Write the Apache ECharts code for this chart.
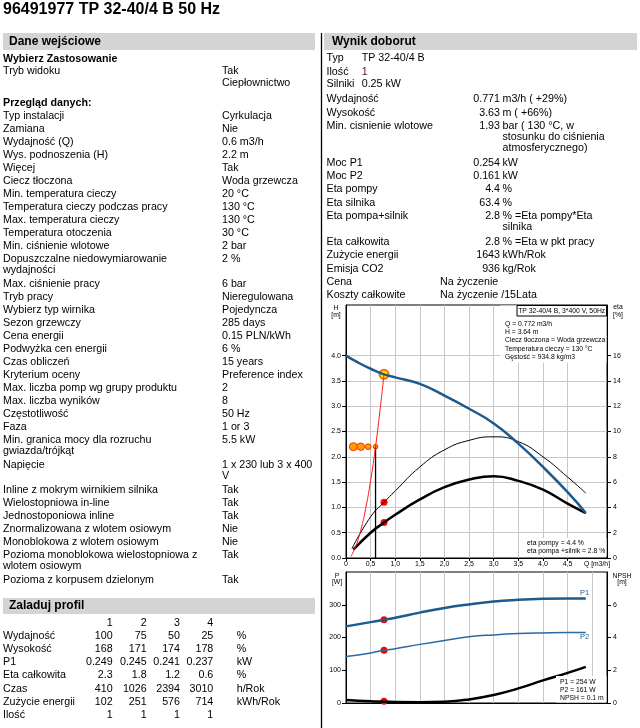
<!DOCTYPE html>
<html>
<head>
<meta charset="utf-8">
<title>96491977 TP 32-40/4 B 50 Hz</title>
<script src="https://cdn.jsdelivr.net/npm/echarts@6.0.0/dist/echarts.min.js"></script>
<style>
  html, body { margin: 0; padding: 0; background: #fff; }
  #main { width: 640px; height: 728px; }
</style>
</head>
<body>
<div id="main"></div>
<script>
'use strict';

//tick labels
var qTicks = [0, 0.5, 1, 1.5, 2, 2.5, 3, 3.5, 4, 4.5];
var headTicks = [0, 0.5, 1, 1.5, 2, 2.5, 3, 3.5, 4];
var etaTicks = [0, 2, 4, 6, 8, 10, 12, 14, 16];
var powerTicks = [0, 100, 200, 300];
var npshTicks = [0, 2, 4, 6];

//pump curve Q-H
var headQ = [0, 0.25, 0.5, 0.772, 1.0, 1.5, 2.0, 2.5, 3.0, 3.5, 4.0, 4.5, 4.87];
var headH = [4.0, 3.86, 3.74, 3.63, 3.57, 3.44, 3.21, 2.95, 2.66, 2.26, 1.80, 1.30, 0.89];

//efficiency curves [%]
var etaPumpQ = [0.12, 0.5, 0.772, 1.0, 1.5, 2.0, 2.5, 3.0, 3.5, 4.0, 4.5, 4.87];
var etaPump = [0.74, 3.26, 4.4, 5.3, 7.2, 8.55, 9.3, 9.58, 9.2, 8.0, 6.4, 5.13];
var etaTotalQ = [0.15, 0.5, 0.772, 1.0, 1.5, 2.0, 2.5, 3.0, 3.5, 4.0, 4.5, 4.87];
var etaTotal = [0.66, 2.0, 2.8, 3.42, 4.63, 5.6, 6.2, 6.47, 6.1, 5.4, 4.3, 3.55];

//system curve
var systemQ = [0.1, 0.2, 0.3, 0.4, 0.5, 0.6, 0.7, 0.772];
var systemH = [0.03, 0.24, 0.55, 0.98, 1.53, 2.2, 3.0, 3.63];

//required and operating point
var requiredQ = 0.6;
var requiredH = 2.2;
var dutyQ = 0.772;
var dutyH = 3.63;
var dutyEtaPump = 4.4;
var dutyEtaTotal = 2.8;
var dutyP1 = 254;
var dutyP2 = 161;
var dutyNpsh = 0.1;

//load profile points
var profileQ = [0.15, 0.3, 0.45, 0.6];
var profileH = [2.2, 2.2, 2.2, 2.2];
var profileHours = [3010, 2394, 1026, 410];

//power and NPSH curves
var powerQ = [0, 0.5, 0.772, 1.0, 1.5, 2.0, 2.5, 3.0, 3.5, 4.0, 4.5, 4.87];
var powerP1 = [234, 247, 254, 260, 276, 290, 301, 310, 315, 318, 319, 319];
var powerP2 = [142, 153, 161, 166, 179, 191, 202, 208, 212, 214, 215, 215];
var npsh = [0.18, 0.1, 0.08, 0.06, 0.05, 0.08, 0.22, 0.49, 0.89, 1.38, 1.84, 2.21];

//text tables
var inputRows = [
  ['Typ instalacji', 'Cyrkulacja'],
  ['Zamiana', 'Nie'],
  ['Wydajność (Q)', '0.6 m3/h'],
  ['Wys. podnoszenia (H)', '2.2 m'],
  ['Więcej', 'Tak'],
  ['Ciecz tłoczona', 'Woda grzewcza'],
  ['Min. temperatura cieczy', '20 °C'],
  ['Temperatura cieczy podczas pracy', '130 °C'],
  ['Max. temperatura cieczy', '130 °C'],
  ['Temperatura otoczenia', '30 °C'],
  ['Min. ciśnienie wlotowe', '2 bar'],
  ['Dopuszczalne niedowymiarowanie\nwydajności', '2 %'],
  ['Max. ciśnienie pracy', '6 bar'],
  ['Tryb pracy', 'Nieregulowana'],
  ['Wybierz typ wirnika', 'Pojedyncza'],
  ['Sezon grzewczy', '285 days'],
  ['Cena energii', '0.15 PLN/kWh'],
  ['Podwyżka cen energii', '6 %'],
  ['Czas obliczeń', '15 years'],
  ['Kryterium oceny', 'Preference index'],
  ['Max. liczba pomp wg grupy produktu', '2'],
  ['Max. liczba wyników', '8'],
  ['Częstotliwość', '50 Hz'],
  ['Faza', '1 or 3'],
  ['Min. granica mocy dla rozruchu\ngwiazda/trójkąt', '5.5 kW'],
  ['Napięcie', '1 x 230 lub 3 x 400\nV'],
  ['Inline z mokrym wirnikiem silnika', 'Tak'],
  ['Wielostopniowa in-line', 'Tak'],
  ['Jednostoponiowa inline', 'Tak'],
  ['Znormalizowana z wlotem osiowym', 'Nie'],
  ['Monoblokowa z wlotem osiowym', 'Nie'],
  ['Pozioma monoblokowa wielostopniowa z\nwlotem osiowym', 'Tak'],
  ['Pozioma z korpusem dzielonym', 'Tak']
];

var resultRows = [
  ['Wydajność', '0.771', 'm3/h ( +29%)'],
  ['Wysokość', '3.63', 'm ( +66%)'],
  ['Min. cisnienie wlotowe', '1.93', 'bar ( 130 °C, w\nstosunku do ciśnienia\natmosferycznego)'],
  ['Moc P1', '0.254', 'kW'],
  ['Moc P2', '0.161', 'kW'],
  ['Eta pompy', '4.4', '%'],
  ['Eta silnika', '63.4', '%'],
  ['Eta pompa+silnik', '2.8', '% =Eta pompy*Eta\nsilnika'],
  ['Eta całkowita', '2.8', '% =Eta w pkt pracy'],
  ['Zużycie energii', '1643', 'kWh/Rok'],
  ['Emisja CO2', '936', 'kg/Rok']
];

var profileRows = [
  ['', '1', '2', '3', '4', ''],
  ['Wydajność', '100', '75', '50', '25', '%'],
  ['Wysokość', '168', '171', '174', '178', '%'],
  ['P1', '0.249', '0.245', '0.241', '0.237', 'kW'],
  ['Eta całkowita', '2.3', '1.8', '1.2', '0.6', '%'],
  ['Czas', '410', '1026', '2394', '3010', 'h/Rok'],
  ['Zużycie energii', '102', '251', '576', '714', 'kWh/Rok'],
  ['Ilość', '1', '1', '1', '1', '']
];

var FONT = '"Liberation Sans", Arial, sans-serif';
var BLUE = '#1d5a8e';

function zip(xs, ys) {
  return xs.map(function(x, i) { return [x, ys[i]]; });
}

function txt(x, y, s, opt) {
  opt = opt || {};
  var align = opt.align || 'left';
  return {
    type: 'text', x: x, y: y, z: 100, silent: true,
    style: {
      text: s,
      fill: opt.color || '#000',
      font: (opt.bold ? 'bold ' : '') + (opt.size || 10.7) + 'px ' + FONT,
      align: align, textAlign: align,
      verticalAlign: 'middle', textVerticalAlign: 'middle'
    }
  };
}

function rect(x, y, w, h, fill, stroke) {
  return {
    type: 'rect', z: 90, silent: true,
    shape: { x: x, y: y, width: w, height: h },
    style: { fill: fill || 'none', stroke: stroke || null, lineWidth: 1 }
  };
}

var g = [];

//title and section headers
g.push(txt(3, 10, '96491977 TP 32-40/4 B 50 Hz', { bold: true, size: 16 }));
g.push(rect(3, 33, 312, 17, '#d4d4d4'));
g.push(txt(9, 42, 'Dane wejściowe', { bold: true, size: 12 }));
g.push(rect(324, 33, 313, 17, '#d4d4d4'));
g.push(txt(332, 42, 'Wynik doborut', { bold: true, size: 12 }));
g.push(rect(3, 598, 312, 16, '#d4d4d4'));
g.push(txt(9, 606, 'Zaladuj profil', { bold: true, size: 12 }));
g.push({
  type: 'line', z: 90, silent: true,
  shape: { x1: 321.5, y1: 33, x2: 321.5, y2: 728 },
  style: { stroke: '#000', lineWidth: 1.3 }
});

//left panel
g.push(txt(3, 59.5, 'Wybierz Zastosowanie', { bold: true }));
g.push(txt(3, 71.5, 'Tryb widoku'));
g.push(txt(222, 71.5, 'Tak'));
g.push(txt(222, 83.5, 'Ciepłownictwo'));
g.push(txt(3, 103.5, 'Przegląd danych:', { bold: true }));

var y = 116;
inputRows.forEach(function(row) {
  var labels = row[0].split('\n');
  var values = row[1].split('\n');
  var n = Math.max(labels.length, values.length);
  labels.forEach(function(s, i) { g.push(txt(3, y + i * 10.7, s)); });
  values.forEach(function(s, i) { g.push(txt(222, y + i * 10.7, s)); });
  y += 13 + (n - 1) * 12;
});

//right panel
g.push(txt(326.5, 58.3, 'Typ'));
g.push(txt(361.7, 58.3, 'TP 32-40/4 B'));
g.push(txt(326.5, 71.7, 'Ilość'));
g.push(txt(361.7, 71.7, '1', { color: '#5a1010' }));
g.push(txt(326.5, 84, 'Silniki'));
g.push(txt(361.7, 84, '0.25 kW'));

y = 99.3;
resultRows.forEach(function(row) {
  var units = row[2].split('\n');
  g.push(txt(326.5, y, row[0]));
  g.push(txt(500, y, row[1], { align: 'right' }));
  units.forEach(function(s, i) { g.push(txt(502.5, y + i * 10.8, s)); });
  y += units.length > 1 ? (units.length - 1) * 10.8 + 15 : 13.4;
});
g.push(txt(326.5, 281.8, 'Cena'));
g.push(txt(440, 281.8, 'Na życzenie'));
g.push(txt(326.5, 295.4, 'Koszty całkowite'));
g.push(txt(440, 295.4, 'Na życzenie /15Lata'));

//profile table
var colRight = [112.7, 146.7, 180, 213.3];
profileRows.forEach(function(row, r) {
  var ry = 622.7 + r * 13.2;
  g.push(txt(3, ry, row[0]));
  for (var c = 0; c < 4; c++) {
    g.push(txt(colRight[c], ry, row[c + 1], { align: 'right' }));
  }
  g.push(txt(236.7, ry, row[5]));
});

//chart overlays
var S = 6.8;
g.push(txt(336, 308, 'H', { size: S, align: 'center' }));
g.push(txt(336, 315, '[m]', { size: S, align: 'center' }));
g.push(txt(618, 307, 'eta', { size: S, align: 'center' }));
g.push(txt(618, 315, '[%]', { size: S, align: 'center' }));
g.push(txt(597, 564, 'Q [m3/h]', { size: S, align: 'center' }));
g.push(txt(337, 576, 'P', { size: S, align: 'center' }));
g.push(txt(337, 582.5, '[W]', { size: S, align: 'center' }));
g.push(txt(622, 576, 'NPSH', { size: S, align: 'center' }));
g.push(txt(622, 582.5, '[m]', { size: S, align: 'center' }));

g.push(rect(500, 305.5, 106.5, 57, '#fff'));
g.push(rect(517, 305.5, 89.5, 10.5, '#fff', '#000'));
g.push(txt(561.7, 311, 'TP 32-40/4 B, 3*400 V, 50Hz', { size: S, align: 'center' }));
['Q = 0.772 m3/h', 'H = 3.64 m', 'Ciecz tłoczona = Woda grzewcza',
 'Temperatura cieczy = 130 °C', 'Gęstość = 934.8 kg/m3'].forEach(function(s, i) {
  g.push(txt(505, 323.8 + i * 8.3, s, { size: S }));
});

g.push(rect(523, 538, 83.5, 18, '#fff'));
g.push(txt(527, 543, 'eta pompy = 4.4 %', { size: S }));
g.push(txt(527, 551, 'eta pompa +silnik = 2.8 %', { size: S }));

g.push(rect(556, 676, 50.5, 26.5, '#fff'));
g.push(txt(560, 681.7, 'P1 = 254 W', { size: S }));
g.push(txt(560, 689.7, 'P2 = 161 W', { size: S }));
g.push(txt(560, 697.7, 'NPSH = 0.1 m', { size: S }));
g.push(txt(584.5, 593.3, 'P1', { size: 7.5, align: 'center', color: BLUE }));
g.push(txt(584.5, 637.3, 'P2', { size: 7.5, align: 'center', color: BLUE }));

//axes helpers
var labelStyle = { fontSize: 7, fontFamily: FONT, color: '#000' };
var gridLine = { show: true, lineStyle: { color: '#c8c8c8', width: 1 } };

function valueAxis(extra) {
  return Object.assign({
    type: 'value',
    axisLine: { show: true, onZero: false, lineStyle: { color: '#000', width: 1 } },
    splitLine: { show: false }
  }, extra);
}

var option = {
  animation: false,
  backgroundColor: '#fff',
  grid: [
    { left: 346, top: 305, right: 33, bottom: 170, show: true, borderColor: '#000', borderWidth: 1 },
    { left: 346, top: 572, right: 33, bottom: 25, show: true, borderColor: '#000', borderWidth: 1 }
  ],
  xAxis: [
    valueAxis({
      gridIndex: 0, min: 0, max: 5.3, interval: 0.5,
      splitLine: gridLine,
      axisTick: { show: true, length: 3, customValues: qTicks, lineStyle: { color: '#000' } },
      axisLabel: Object.assign({
        margin: 3, customValues: qTicks,
        formatter: function(v) { return v === 0 ? '0' : v.toFixed(1).replace('.', ','); }
      }, labelStyle)
    }),
    valueAxis({
      gridIndex: 1, min: 0, max: 5.3, interval: 0.5,
      splitLine: gridLine,
      axisTick: { show: false },
      axisLabel: { show: false }
    })
  ],
  yAxis: [
    valueAxis({
      gridIndex: 0, min: 0, max: 5, interval: 0.5,
      splitLine: gridLine,
      axisTick: { show: true, length: 4, customValues: headTicks, lineStyle: { color: '#000' } },
      axisLabel: Object.assign({
        margin: 5, customValues: headTicks,
        formatter: function(v) { return v.toFixed(1); }
      }, labelStyle)
    }),
    valueAxis({
      gridIndex: 0, min: 0, max: 20, interval: 2, position: 'right',
      axisTick: { show: true, length: 4, customValues: etaTicks, lineStyle: { color: '#000' } },
      axisLabel: Object.assign({ margin: 6, customValues: etaTicks }, labelStyle)
    }),
    valueAxis({
      gridIndex: 1, min: 0, max: 400, interval: 100,
      axisTick: { show: true, length: 4, customValues: powerTicks, lineStyle: { color: '#000' } },
      axisLabel: Object.assign({ margin: 5, customValues: powerTicks }, labelStyle)
    }),
    valueAxis({
      gridIndex: 1, min: 0, max: 8, interval: 2, position: 'right',
      axisTick: { show: true, length: 4, customValues: npshTicks, lineStyle: { color: '#000' } },
      axisLabel: Object.assign({ margin: 6, customValues: npshTicks }, labelStyle)
    })
  ],
  graphic: { elements: g },
  series: [
    {
      type: 'line', xAxisIndex: 0, yAxisIndex: 1, data: zip(etaPumpQ, etaPump),
      smooth: true, showSymbol: false, silent: true,
      lineStyle: { color: '#000', width: 1 }
    },
    {
      type: 'line', xAxisIndex: 0, yAxisIndex: 1, data: zip(etaTotalQ, etaTotal),
      smooth: true, showSymbol: false, silent: true,
      lineStyle: { color: '#000', width: 2.5 }
    },
    {
      type: 'line', xAxisIndex: 0, yAxisIndex: 0, data: zip(headQ, headH),
      smooth: true, showSymbol: false, silent: true,
      lineStyle: { color: BLUE, width: 2.5 }
    },
    {
      type: 'line', xAxisIndex: 0, yAxisIndex: 0,
      data: [[requiredQ, 0], [requiredQ, requiredH]],
      showSymbol: false, silent: true,
      lineStyle: { color: '#000', width: 1.3 }
    },
    {
      type: 'line', xAxisIndex: 0, yAxisIndex: 0, data: zip(systemQ, systemH),
      smooth: true, showSymbol: false, silent: true,
      lineStyle: { color: '#ff1a1a', width: 1 }
    },
    {
      type: 'scatter', xAxisIndex: 0, yAxisIndex: 0, silent: true,
      data: zip(profileQ, profileH).map(function(p, i) {
        return { value: p, symbolSize: 2.5 + Math.sqrt(profileHours[i]) / 10 };
      }),
      itemStyle: { color: '#ffa000', borderColor: '#ff2a00', borderWidth: 1, opacity: 1 }
    },
    {
      type: 'scatter', xAxisIndex: 0, yAxisIndex: 0, silent: true,
      data: [[dutyQ, dutyH]], symbolSize: 9,
      itemStyle: { color: '#ffee00', borderColor: '#ff6a00', borderWidth: 2, opacity: 1 }
    },
    {
      type: 'scatter', xAxisIndex: 0, yAxisIndex: 1, silent: true,
      data: [[dutyQ, dutyEtaPump], [dutyQ, dutyEtaTotal]], symbolSize: 7,
      itemStyle: { color: '#ff0000', opacity: 1 }
    },
    {
      type: 'line', xAxisIndex: 1, yAxisIndex: 2, data: zip(powerQ, powerP1),
      smooth: true, showSymbol: false, silent: true,
      lineStyle: { color: BLUE, width: 2.5 }
    },
    {
      type: 'line', xAxisIndex: 1, yAxisIndex: 2, data: zip(powerQ, powerP2),
      smooth: true, showSymbol: false, silent: true,
      lineStyle: { color: '#2a6aa2', width: 1.5 }
    },
    {
      type: 'line', xAxisIndex: 1, yAxisIndex: 3, data: zip(powerQ, npsh),
      smooth: true, showSymbol: false, silent: true,
      lineStyle: { color: '#000', width: 2.5 }
    },
    {
      type: 'scatter', xAxisIndex: 1, yAxisIndex: 2, silent: true,
      data: [[dutyQ, dutyP1], [dutyQ, dutyP2]], symbolSize: 7,
      itemStyle: { color: '#ff0000', opacity: 1 }
    },
    {
      type: 'scatter', xAxisIndex: 1, yAxisIndex: 3, silent: true,
      data: [[dutyQ, dutyNpsh]], symbolSize: 7,
      itemStyle: { color: '#ff0000', opacity: 1 }
    }
  ]
};

var chart = echarts.init(document.getElementById('main'), null, { renderer: 'canvas' });
chart.setOption(option);
</script>
</body>
</html>
